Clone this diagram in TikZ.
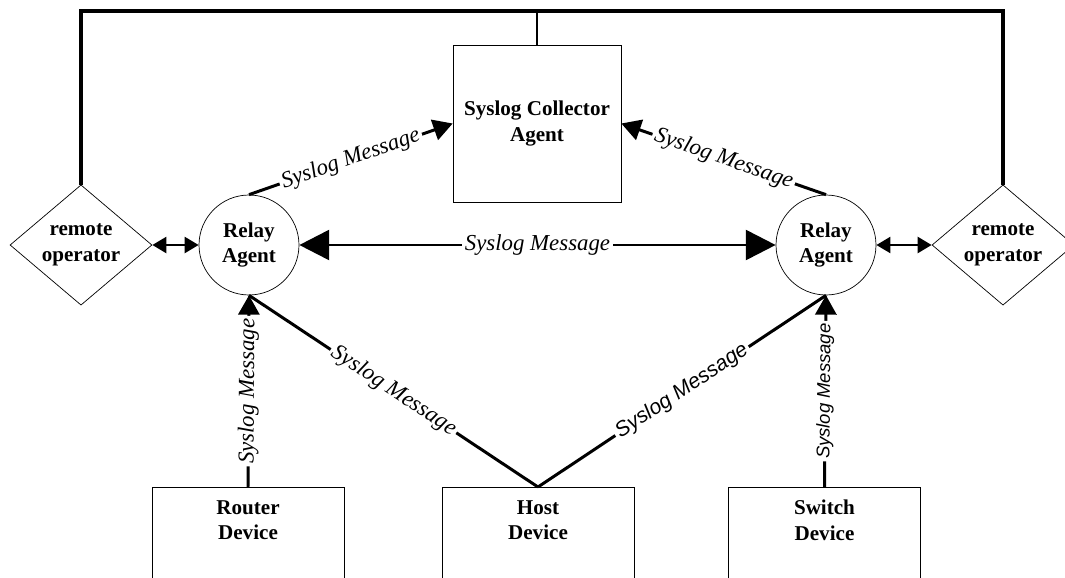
\documentclass[tikz,border=0pt]{standalone}
\usepackage{fontspec}
\setmainfont{Liberation Serif}
\newfontfamily\helv{Liberation Sans}
\usetikzlibrary{arrows.meta,shapes.geometric}

\begin{document}
\begin{tikzpicture}[x=0.02cm,y=-0.02cm]
    \tikzstyle{box} = [draw,thin,align=center,font=\bfseries\fontsize{12}{14.5}\selectfont]
    \tikzstyle{relay} = [box,circle,minimum size=2cm,inner sep=0pt]
    \tikzstyle{operator} = [box,diamond,minimum width=2.84cm,minimum height=2.32cm,inner sep=0pt]
    \tikzstyle{device} = [draw,thin,minimum width=3.84cm,minimum height=2.6cm,anchor=north]
    \tikzstyle{devtext} = [align=center,anchor=north,yshift=-4pt,font=\bfseries\fontsize{12}{14.5}\selectfont]
    \tikzstyle{msg} = [fill=white,sloped,inner sep=1.5pt,font=\itshape\fontsize{13}{14}\selectfont]
    \tikzstyle{sansmsg} = [msg,font=\helv\itshape\fontsize{12}{14}\selectfont]
    \tikzstyle{link} = [line width=1.7pt]
    \tikzstyle{big} = [>={Triangle[length=17pt,width=17pt]}]
    \tikzstyle{mid} = [>={Triangle[length=11pt,width=12pt]}]
    \tikzstyle{small} = [>={Triangle[length=8pt,width=9pt]}]
    \clip (0,0) rectangle (1065,578);
    \node [box,minimum width=3.36cm,minimum height=3.14cm] (collector) at (537,123.5) {Syslog Collector\\Agent};
    \node [relay] (lrelay) at (249,245) {Relay\\Agent};
    \node [relay] (rrelay) at (826,245) {Relay\\Agent};
    \node [operator] (lop) at (81,245) {remote\\operator};
    \node [operator] (rop) at (1003,245) {remote\\operator};
    \node [device,label={[devtext]north:{Router\\Device}}] (router) at (248,487) {};
    \node [device,label={[devtext]north:{Host\\Device}}] (host) at (538,487) {};
    \node [device,label={[devtext]north:{Switch\\Device}}] (switch) at (824.5,487) {};
    \coordinate (bus) at (537,11);
    % operators on top
    \draw [line width=2.2pt] (lop.north) |- (bus) -| (rop.north);
    \draw [link] (collector.north) -- (collector.north |- bus);
    % relays to collector
    \draw [link,mid,->] (lrelay.north) -- node [msg] {Syslog Message} (collector.west);
    \draw [link,mid,->] (rrelay.north) -- node [msg] {Syslog Message} (collector.east);
    \draw [link,big,<->] (lrelay) -- node [msg] {Syslog Message} (rrelay);
    \draw [link,small,<->] (lop) -- (lrelay);
    \draw [link,small,<->] (rrelay) -- (rop);
    % devices to relays
    \draw [link,mid,->] (router.north) -- node [msg] {Syslog Message} (lrelay.south);
    \draw [link] (host.north) -- node [msg] {Syslog Message} (lrelay.south);
    \draw [link] (host.north) -- node [sansmsg] {Syslog Message} (rrelay.south);
    \draw [link,mid,->] (switch.north) -- node [sansmsg,font=\helv\itshape\fontsize{10.5}{12}\selectfont] {Syslog Message} (rrelay.south);
  \end{tikzpicture}
\end{document}
